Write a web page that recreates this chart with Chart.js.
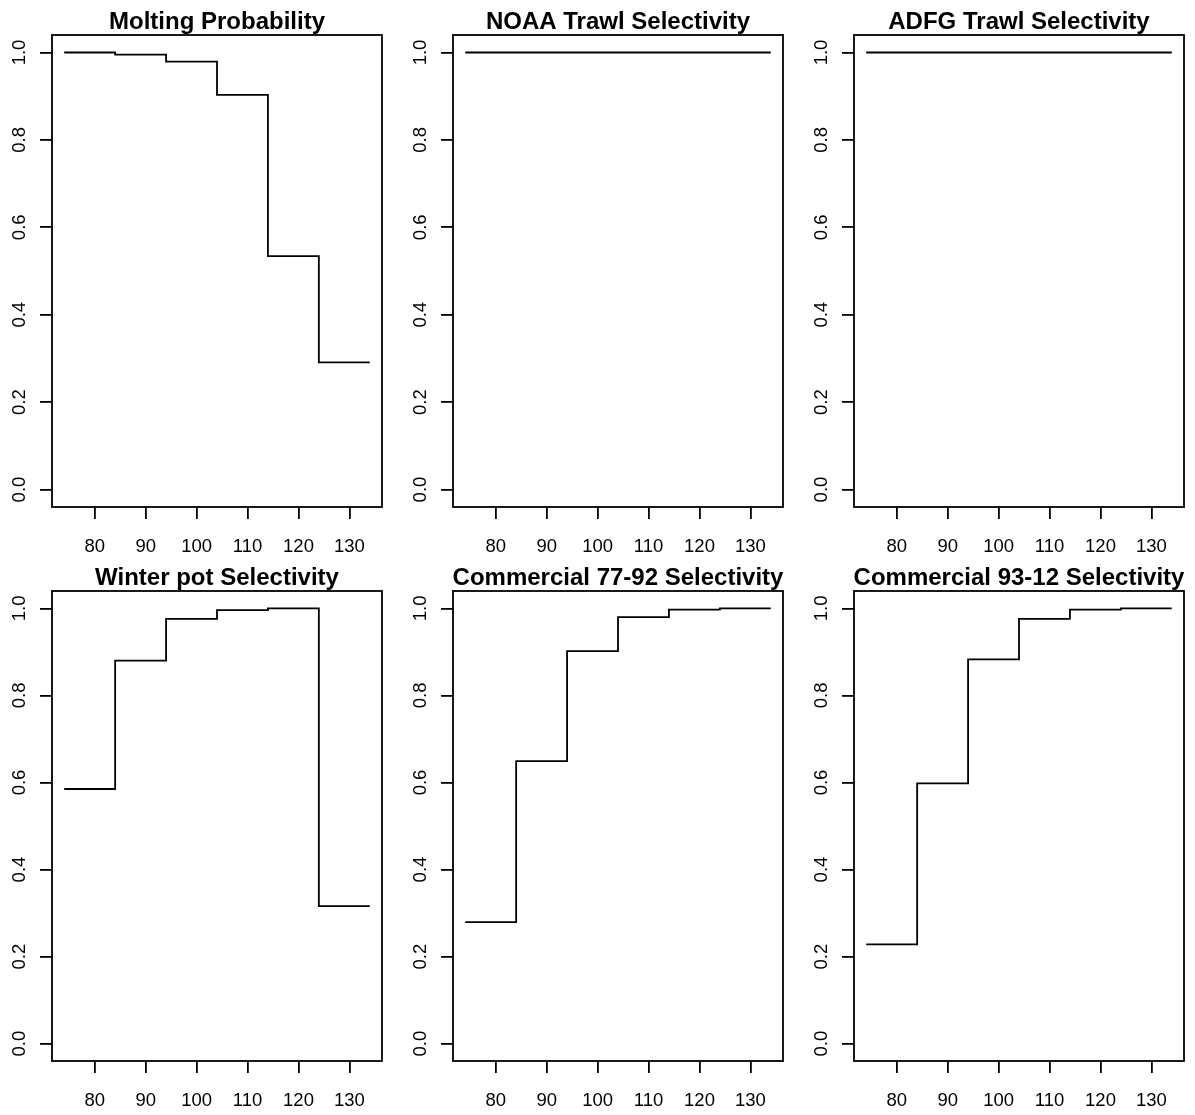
<!DOCTYPE html>
<html>
<head>
<meta charset="utf-8">
<script src="https://cdn.jsdelivr.net/npm/chart.js@4.4.1/dist/chart.umd.min.js"></script>
<style>
  html, body { margin: 0; padding: 0; background: #fff; overflow: hidden; width: 1195px; height: 1115px; }
  canvas { position: absolute; }
</style>
</head>
<body>
<script>
// Carapace length class (mm), start of each class plus the closing edge
const sizeBins = [74, 84, 94, 104, 114, 124, 134];

// Per-class probabilities for each panel
const moltingProb   = [1.000, 0.995, 0.979, 0.903, 0.534, 0.291, 0.291];
const noaaTrawl     = [1.000, 1.000, 1.000, 1.000, 1.000, 1.000, 1.000];
const adfgTrawl     = [1.000, 1.000, 1.000, 1.000, 1.000, 1.000, 1.000];
const winterPot     = [0.585, 0.880, 0.976, 0.996, 1.000, 0.316, 0.316];
const comm7792      = [0.279, 0.649, 0.902, 0.980, 0.997, 1.000, 1.000];
const comm9312      = [0.228, 0.598, 0.883, 0.976, 0.997, 1.000, 1.000];

const panelTitles = [
  'Molting Probability', 'NOAA Trawl Selectivity', 'ADFG Trawl Selectivity',
  'Winter pot Selectivity', 'Commercial 77-92 Selectivity', 'Commercial 93-12 Selectivity'
];
const panelSeries = [moltingProb, noaaTrawl, adfgTrawl, winterPot, comm7792, comm9312];

// Axis ticks
const xTickValues = [80, 90, 100, 110, 120, 130];
const yTickValues = [0, 0.2, 0.4, 0.6, 0.8, 1.0];

// Page geometry (2 x 3 grid)
const FONT = '"Liberation Sans", Arial, Helvetica, sans-serif';
const LW = 1.8;
const colLeft = [0, 401, 802];
const rowTop = [0, 556];
const boxHeight = [472, 470];
const AXIS_W = 52, TITLE_H = 35, BOX_W = 330, XAXIS_H = 49, CANVAS_W = 396;

Chart.defaults.color = '#000';
Chart.defaults.font.family = FONT;

// Draws the frame, the panel title and the rotated y tick labels
const framePlugin = {
  id: 'frame',
  afterDraw(chart, args, opts) {
    const { ctx, chartArea: a } = chart;
    const y = chart.scales.y;
    ctx.save();
    ctx.strokeStyle = '#000';
    ctx.lineWidth = LW;
    ctx.strokeRect(a.left, a.top, a.right - a.left, a.bottom - a.top);
    ctx.fillStyle = '#000';
    ctx.font = 'bold 24px ' + FONT;
    ctx.textAlign = 'center';
    ctx.textBaseline = 'alphabetic';
    ctx.fillText(opts.title, (a.left + a.right) / 2, a.top - 6);
    ctx.font = '18.5px ' + FONT;
    y.ticks.forEach(t => {
      const py = y.getPixelForValue(t.value);
      ctx.save();
      ctx.translate(a.left - 27, py);
      ctx.rotate(-Math.PI / 2);
      ctx.fillText(t.value.toFixed(1), 0, 0);
      ctx.restore();
    });
    ctx.restore();
  }
};

panelTitles.forEach((title, i) => {
  const row = Math.floor(i / 3), col = i % 3;
  const bh = boxHeight[row];
  const canvas = document.createElement('canvas');
  const h = TITLE_H + bh + XAXIS_H;
  canvas.width = CANVAS_W;
  canvas.height = h;
  canvas.style.width = CANVAS_W + 'px';
  canvas.style.height = h + 'px';
  canvas.style.left = colLeft[col] + 'px';
  canvas.style.top = rowTop[row] + 'px';
  document.body.appendChild(canvas);

  const values = panelSeries[i];
  new Chart(canvas, {
    type: 'line',
    data: {
      datasets: [{
        data: sizeBins.map((x, k) => ({ x: x, y: values[k] })),
        stepped: 'before',
        borderColor: '#000',
        borderWidth: LW,
        pointRadius: 0,
        fill: false,
        tension: 0
      }]
    },
    options: {
      responsive: false,
      devicePixelRatio: 1,
      animation: false,
      events: [],
      layout: {
        autoPadding: false,
        padding: { top: TITLE_H, left: 0, right: CANVAS_W - AXIS_W - BOX_W, bottom: 0 }
      },
      plugins: {
        legend: { display: false },
        tooltip: { enabled: false },
        title: { display: false },
        frame: { title: title }
      },
      scales: {
        x: {
          type: 'linear',
          position: 'bottom',
          min: 71.6,
          max: 136.4,
          afterBuildTicks: s => { s.ticks = xTickValues.map(v => ({ value: v })); },
          afterFit: s => { s.height = XAXIS_H; },
          border: { display: false },
          grid: { drawOnChartArea: false, drawTicks: true, tickLength: 12, color: '#000', lineWidth: LW },
          ticks: {
            autoSkip: false, maxRotation: 0, minRotation: 0, padding: 17,
            color: '#000', font: { size: 18.5, family: FONT },
            callback: v => String(v)
          }
        },
        y: {
          type: 'linear',
          position: 'left',
          min: -0.04,
          max: 1.04,
          afterBuildTicks: s => { s.ticks = yTickValues.map(v => ({ value: v })); },
          afterFit: s => { s.width = AXIS_W; },
          border: { display: false },
          grid: { drawOnChartArea: false, drawTicks: true, tickLength: 12, color: '#000', lineWidth: LW },
          ticks: { display: false }
        }
      }
    },
    plugins: [framePlugin]
  });
});
</script>
</body>
</html>
